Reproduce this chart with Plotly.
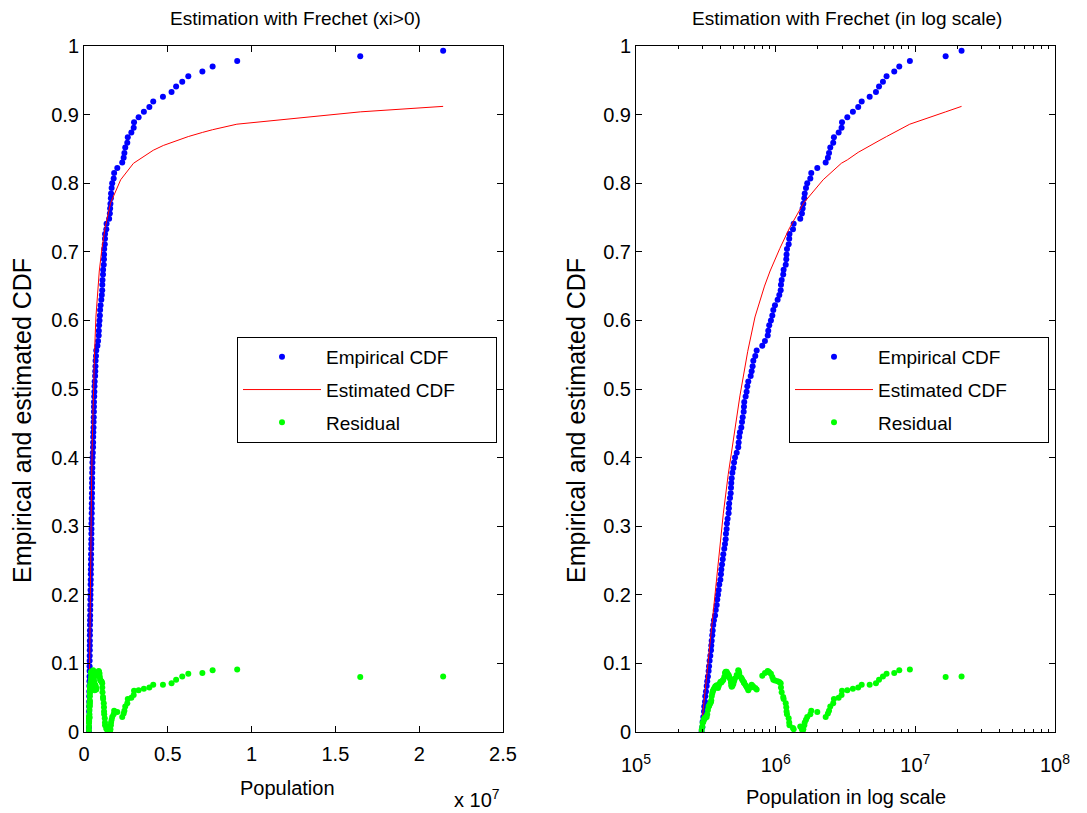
import plotly.graph_objects as go

# ---------------- data ----------------
population = [
    295000, 298500, 300000, 303400, 306900, 308300, 311900, 313300, 317000, 320600,
    323600, 327300, 331100, 333400, 336500, 340400, 344300, 345900, 348300, 351600,
    354000, 357300, 361400, 368100, 372400, 378400, 381900, 386400, 390800, 394500,
    401800, 405500, 408300, 413000, 417800, 421700, 428500, 433500, 438500, 440600,
    445600, 447700, 452900, 460300, 462400, 464500, 471000, 476400, 478600, 480800,
    484200, 489800, 497700, 503500, 511700, 526000, 539500, 543300, 548300, 554600,
    567500, 574100, 580800, 590200, 592900, 595700, 609500, 619400, 626600, 636800,
    662200, 673000, 683900, 691800, 714500, 731100, 801700, 837500, 877000, 885100,
    899500, 924700, 946200, 961600, 988500, 1032800, 1061700, 1086400, 1091400, 1104100,
    1132400, 1140200, 1180300, 1191200, 1196700, 1205000, 1238800, 1250300, 1256000, 1330500,
    1345900, 1499700, 1541700, 1559600, 1577600, 1603200, 1614400, 1648200, 1682700, 1770100,
    1798900, 1986100, 2280300, 2365900, 2409900, 2460400, 2582300, 2612200, 2824900, 2964800,
    2985400, 3258400, 3572800, 3899400, 4130500, 4709800, 5223900, 5495400, 5861400, 6223000,
    7063100, 7673600, 9141100, 16481900, 21428900,
]

empirical_cdf = [
    0.000, 0.007, 0.015, 0.022, 0.030, 0.037, 0.044, 0.052, 0.059, 0.067,
    0.074, 0.081, 0.089, 0.096, 0.104, 0.111, 0.119, 0.126, 0.133, 0.141,
    0.148, 0.156, 0.163, 0.170, 0.178, 0.185, 0.193, 0.200, 0.207, 0.215,
    0.222, 0.230, 0.237, 0.244, 0.252, 0.259, 0.267, 0.274, 0.281, 0.289,
    0.296, 0.304, 0.311, 0.319, 0.326, 0.333, 0.341, 0.348, 0.356, 0.363,
    0.370, 0.378, 0.385, 0.393, 0.400, 0.407, 0.415, 0.422, 0.430, 0.437,
    0.444, 0.452, 0.459, 0.467, 0.474, 0.481, 0.489, 0.496, 0.504, 0.511,
    0.519, 0.526, 0.533, 0.541, 0.548, 0.556, 0.563, 0.570, 0.578, 0.585,
    0.593, 0.600, 0.607, 0.615, 0.622, 0.630, 0.637, 0.644, 0.652, 0.659,
    0.667, 0.674, 0.681, 0.689, 0.696, 0.704, 0.711, 0.719, 0.726, 0.733,
    0.741, 0.748, 0.756, 0.763, 0.770, 0.778, 0.785, 0.793, 0.800, 0.807,
    0.815, 0.822, 0.830, 0.837, 0.844, 0.852, 0.859, 0.867, 0.874, 0.881,
    0.889, 0.896, 0.904, 0.911, 0.919, 0.926, 0.933, 0.941, 0.948, 0.956,
    0.963, 0.970, 0.978, 0.985, 0.993,
]

residual = [
    0.003, 0.008, 0.013, 0.015, 0.018, 0.020, 0.020, 0.021, 0.022, 0.022,
    0.026, 0.032, 0.037, 0.038, 0.040, 0.042, 0.044, 0.046, 0.052, 0.056,
    0.059, 0.061, 0.063, 0.066, 0.067, 0.068, 0.066, 0.064, 0.067, 0.070,
    0.073, 0.073, 0.072, 0.074, 0.075, 0.076, 0.080, 0.086, 0.088, 0.087,
    0.088, 0.086, 0.085, 0.083, 0.081, 0.080, 0.078, 0.076, 0.072, 0.068,
    0.066, 0.067, 0.070, 0.074, 0.078, 0.083, 0.090, 0.089, 0.086, 0.081,
    0.079, 0.077, 0.075, 0.073, 0.072, 0.071, 0.068, 0.066, 0.064, 0.061,
    0.065, 0.069, 0.067, 0.066, 0.064, 0.062, 0.082, 0.086, 0.089, 0.088,
    0.087, 0.085, 0.080, 0.076, 0.075, 0.074, 0.073, 0.071, 0.065, 0.058,
    0.051, 0.048, 0.042, 0.036, 0.030, 0.026, 0.020, 0.014, 0.010, 0.006,
    0.004, 0.008, 0.004, 0.002, 0.004, 0.010, 0.014, 0.018, 0.022, 0.026,
    0.031, 0.029, 0.022, 0.027, 0.031, 0.037, 0.042, 0.048, 0.050, 0.054,
    0.060, 0.061, 0.063, 0.065, 0.069, 0.069, 0.071, 0.076, 0.081, 0.085,
    0.086, 0.090, 0.091, 0.080, 0.081,
]

estimated_x = [
    291700, 303400, 325800, 361400, 389000, 421700, 457100, 501200, 554600, 631000,
    711200, 831800, 912000, 1071500, 1258900, 1584900, 2187800, 2951200, 3258400,
    3899400, 4130500, 4731500, 5495400, 6223000, 7063100, 7673600, 9120100,
    16481900, 21428900,
]
estimated_cdf = [
    0.0, 0.035, 0.095, 0.19, 0.255, 0.318, 0.375, 0.43, 0.49, 0.555,
    0.605, 0.65, 0.672, 0.705, 0.735, 0.771, 0.805, 0.829, 0.834,
    0.845, 0.848, 0.855, 0.862, 0.868, 0.874, 0.878, 0.886,
    0.904, 0.912,
]

titles = ["Estimation with Frechet (xi>0)", "Estimation with Frechet (in log scale)"]
x_titles = ["Population", "Population in log scale"]
y_title = "Empirical and estimated CDF"
left_tickvals = [0, 5e6, 1e7, 1.5e7, 2e7, 2.5e7]
left_ticktext = ["0", "0.5", "1", "1.5", "2", "2.5"]
right_tickvals = [1e5, 1e6, 1e7, 1e8]
right_ticktext = ["10<sup>5</sup>", "10<sup>6</sup>", "10<sup>7</sup>", "10<sup>8</sup>"]
y_tickvals = [0, 0.1, 0.2, 0.3, 0.4, 0.5, 0.6, 0.7, 0.8, 0.9, 1]
y_ticktext = ["0", "0.1", "0.2", "0.3", "0.4", "0.5", "0.6", "0.7", "0.8", "0.9", "1"]
names = ["Empirical CDF", "Estimated CDF", "Residual"]

# ---------------- figure ----------------
OFF = 8                      # default page (body) margin of the written HTML
W, H = 1087 - OFF, 813 - OFF
FONT = "Liberation Sans, Arial, sans-serif"
BLUE, RED, GREEN = "#0000ff", "#ff0000", "#00ff00"

fig = go.Figure()

pad = "\u00a0" * 8
for k, (xa, ya, leg) in enumerate([("x", "y", "legend"), ("x2", "y2", "legend2")]):
    fig.add_trace(go.Scatter(
        x=population, y=empirical_cdf, mode="markers", name=names[0] + pad,
        marker=dict(color=BLUE, size=6), xaxis=xa, yaxis=ya, legend=leg,
        legendgroup=f"a{k}"))
    fig.add_trace(go.Scatter(
        x=estimated_x, y=estimated_cdf, mode="lines", name=names[1],
        line=dict(color=RED, width=1), xaxis=xa, yaxis=ya, legend=leg,
        legendgroup=f"b{k}"))
    fig.add_trace(go.Scatter(
        x=population, y=residual, mode="markers", name=names[2],
        marker=dict(color=GREEN, size=6), xaxis=xa, yaxis=ya, legend=leg,
        legendgroup=f"c{k}"))

def px_x(p):
    return (p - OFF) / W

def px_y(p):
    return 1 - (p - OFF) / H

L0, L1 = 84, 503
R0, R1 = 636, 1055
T, B = 46, 732

axis_common = dict(showline=True, linecolor="black", linewidth=1, mirror="ticks",
                   ticks="inside", ticklen=6, tickcolor="black", showgrid=False,
                   zeroline=False, automargin=False,
                   tickfont=dict(family=FONT, size=20, color="black"))

legend_common = dict(xanchor="left", yanchor="top", bgcolor="white",
                     bordercolor="black", borderwidth=1,
                     font=dict(family=FONT, size=19, color="black"),
                     itemwidth=78, tracegroupgap=5)

fig.update_layout(
    width=W, height=H, autosize=False,
    margin=dict(l=0, r=0, t=0, b=0, autoexpand=False),
    paper_bgcolor="white", plot_bgcolor="white",
    font=dict(family=FONT, color="black"),
    xaxis=dict(domain=[px_x(L0), px_x(L1)], range=[0, 2.5e7], tickvals=left_tickvals,
               ticktext=left_ticktext, anchor="y", ticklabelstandoff=4, **axis_common),
    yaxis=dict(domain=[px_y(B), px_y(T)], range=[0, 1], tickvals=y_tickvals,
               ticktext=y_ticktext, anchor="x", **axis_common),
    xaxis2=dict(domain=[px_x(R0), px_x(R1)], type="log", range=[5, 8],
                tickvals=right_tickvals, ticktext=right_ticktext, anchor="y2",
                ticklabelstandoff=15,
                minor=dict(tickvals=[m * 10 ** e for e in (5, 6, 7) for m in range(2, 10)],
                           ticks="inside", ticklen=3, tickcolor="black"),
                **axis_common),
    yaxis2=dict(domain=[px_y(B), px_y(T)], range=[0, 1], tickvals=y_tickvals,
                ticktext=y_ticktext, anchor="x2", **axis_common),
    legend=dict(x=px_x(237), y=px_y(337), **legend_common),
    legend2=dict(x=px_x(789), y=px_y(337), **legend_common),
    showlegend=True,
)

def text_ann(text, x, y, size, angle=0):
    return dict(text=text, x=px_x(x), y=px_y(y), xref="paper", yref="paper",
                xanchor="center", yanchor="middle", showarrow=False, textangle=angle,
                font=dict(family=FONT, size=size, color="black"))

ann = [
    text_ann(titles[0], (L0 + L1) / 2 + 2, 18, 19),
    text_ann(titles[1], (R0 + R1) / 2 + 2, 18, 19),
    text_ann(x_titles[0], 287, 788, 20),
    text_ann(x_titles[1], 846, 797, 20),
    text_ann("x 10<sup>7</sup>", 477, 798, 20),
    text_ann(y_title, 22, 421, 25, -90),
    text_ann(y_title, 576, 421, 25, -90),
]
fig.update_layout(annotations=ann)

fig.write_html("out.html")
